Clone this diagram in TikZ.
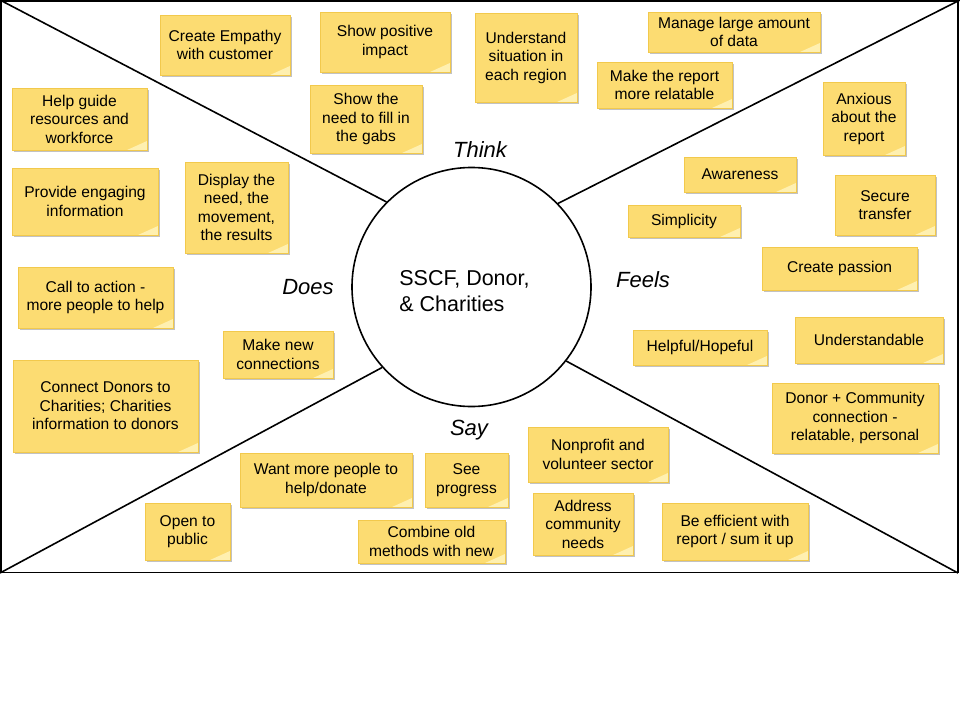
\documentclass[tikz,border=0pt]{standalone}
\usepackage{fontspec}
\setmainfont{Liberation Sans}
\usetikzlibrary{shadows}
\definecolor{noteyellow}{HTML}{FCDC72}
\definecolor{noteedge}{HTML}{F2C94C}
\definecolor{notecurl}{HTML}{FFF0B0}
\tikzset{
  sticky/.style={rectangle, fill=noteyellow, draw=noteedge, line width=0.6pt,
    align=center, inner sep=2pt, font=\fontsize{15.6}{18.5}\selectfont,
    drop shadow={shadow xshift=1.8pt, shadow yshift=-1.8pt, opacity=0.4, fill=black!60},
    path picture={\fill[notecurl] ([xshift=-20pt]path picture bounding box.south east)
      -- ([yshift=9pt]path picture bounding box.south east)
      -- (path picture bounding box.south east) -- cycle;}},
  quadrant/.style={font=\fontsize{22}{26}\selectfont\itshape},
  frame/.style={black, line width=1.6pt}
}
\begin{document}
\begin{tikzpicture}[x=1pt,y=-1pt]
\useasboundingbox (0,0) rectangle (960,720);
\coordinate (nw) at (0,0);
\coordinate (ne) at (960,0);
\coordinate (sw) at (0,573);
\coordinate (se) at (958,573);
\draw[frame] (1,1) rectangle (958,572.5);
\node[circle, draw, line width=1.6pt, minimum size=239pt] (hub) at (471.5,287) {};
\node[align=left, font=\fontsize{21.5}{26}\selectfont] (hubtext) at (464.5,291) {SSCF, Donor,\\\& Charities};
\draw[frame] (nw) -- (hub.135);
\draw[frame] (ne) -- (hub.44);
\draw[frame] (sw) -- (hub.222);
\draw[frame] (se) -- (hub.-38);

\node[quadrant] (think) at (480,150) {Think};
\node[quadrant] (does) at (308,287) {Does};
\node[quadrant] (feels) at (643,280) {Feels};
\node[quadrant] (say) at (469,430) {Say};

\node[sticky, minimum width=130pt, minimum height=60pt] (empathy) at (225,45) {Create Empathy\\with customer};
\node[sticky, minimum width=130pt, minimum height=60pt] (impact) at (385,42) {Show positive\\impact};
\node[sticky, minimum width=112pt, minimum height=68pt] (gaps) at (366,119) {Show the\\need to fill in\\the gabs};
\node[sticky, minimum width=102pt, minimum height=89pt] (region) at (526,57.5) {Understand\\situation in\\each region};
\node[sticky, minimum width=172pt, minimum height=40pt] (data) at (734,32) {Manage large amount\\of data};
\node[sticky, minimum width=135pt, minimum height=46pt] (relatable) at (664.5,85) {Make the report\\more relatable};

\node[sticky, minimum width=82pt, minimum height=73pt] (anxious) at (864,118.5) {Anxious\\about the\\report};
\node[sticky, minimum width=112pt, minimum height=35pt] (awareness) at (740,174.5) {Awareness};
\node[sticky, minimum width=100pt, minimum height=60pt] (secure) at (885,205) {Secure\\transfer};
\node[sticky, minimum width=112pt, minimum height=32pt] (simplicity) at (684,221) {Simplicity};
\node[sticky, minimum width=155pt, minimum height=43pt] (passion) at (839.5,268.5) {Create passion};
\node[sticky, minimum width=134pt, minimum height=35pt] (helpful) at (700,347.5) {Helpful/Hopeful};
\node[sticky, minimum width=148pt, minimum height=46pt] (clear) at (869,340) {Understandable};
\node[sticky, minimum width=166pt, minimum height=70pt] (community) at (855,418) {Donor + Community\\connection -\\relatable, personal};

\node[sticky, minimum width=140pt, minimum height=55pt] (sector) at (598,454.5) {Nonprofit and\\volunteer sector};
\node[sticky, minimum width=100pt, minimum height=62pt] (needs) at (583,524) {Address\\community\\needs};
\node[sticky, minimum width=146pt, minimum height=57pt] (efficient) at (735,531.5) {Be efficient with\\report / sum it up};
\node[sticky, minimum width=172pt, minimum height=54pt] (donate) at (326,480) {Want more people to\\help/donate};
\node[sticky, minimum width=83pt, minimum height=54pt] (progress) at (466.5,480) {See\\progress};
\node[sticky, minimum width=85pt, minimum height=57pt] (public) at (187.5,531.5) {Open to\\public};
\node[sticky, minimum width=147pt, minimum height=43pt] (methods) at (431.5,541.5) {Combine old\\methods with new};

\node[sticky, minimum width=135pt, minimum height=62pt] (guide) at (79.5,119) {Help guide\\resources and\\workforce};
\node[sticky, minimum width=146pt, minimum height=67pt] (engaging) at (85,201.5) {Provide engaging\\information};
\node[sticky, minimum width=103pt, minimum height=91pt] (display) at (236.5,207.5) {Display the\\need, the\\movement,\\the results};
\node[sticky, minimum width=155pt, minimum height=61pt] (action) at (95.5,297.5) {Call to action -\\more people to help};
\node[sticky, minimum width=110pt, minimum height=47pt] (connections) at (278,354.5) {Make new\\connections};
\node[sticky, minimum width=185pt, minimum height=92pt] (donors) at (105.5,406) {Connect Donors to\\Charities; Charities\\information to donors};
\end{tikzpicture}
\end{document}
